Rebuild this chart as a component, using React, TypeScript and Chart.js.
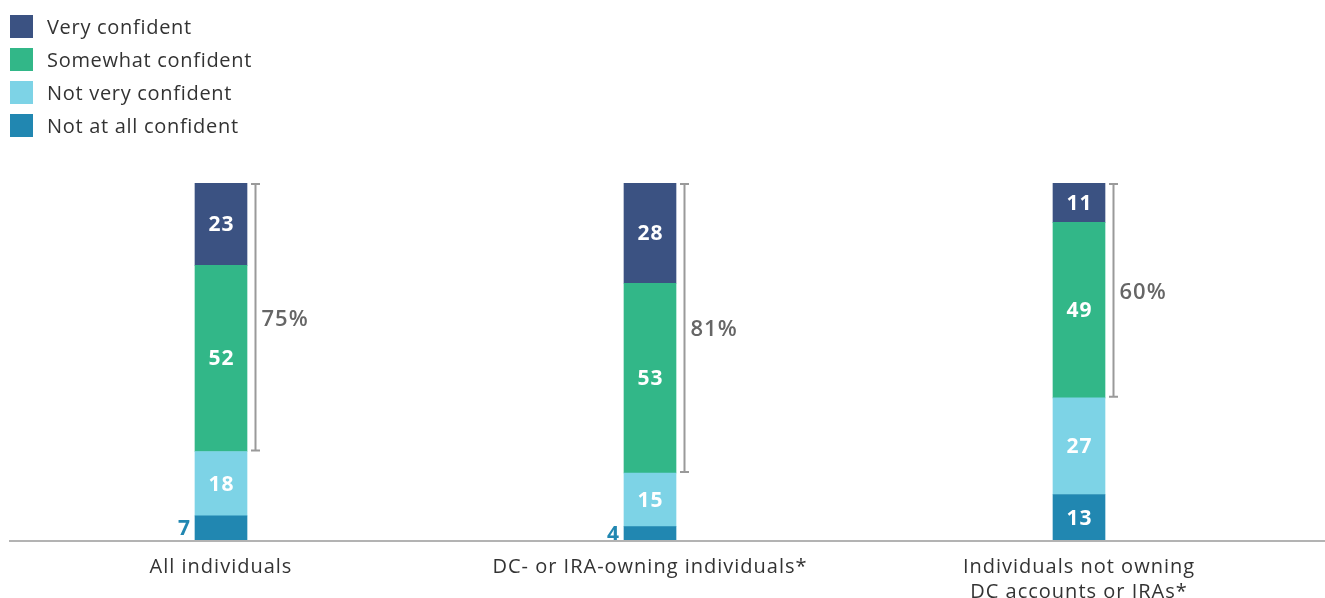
import React, { useEffect, useRef } from "react";
import { Chart, registerables } from "chart.js";

Chart.register(...registerables);

const categories: string[][] = [
  ["All individuals"],
  ["DC- or IRA-owning individuals*"],
  ["Individuals not owning", "DC accounts or IRAs*"],
];
const seriesNames = ["Not at all confident", "Not very confident", "Somewhat confident", "Very confident"];
const notAtAll = [7, 4, 13];
const notVery = [18, 15, 27];
const somewhat = [52, 53, 49];
const very = [23, 28, 11];
const seriesColors = ["#2187b1", "#7dd3e6", "#32b788", "#3b5282"];

const FONT = "'Open Sans', sans-serif";

const overlay = {
  id: "overlay",
  afterDatasetsDraw(chart: any) {
    const ctx = chart.ctx as any;
    const xs = chart.scales.x;
    const ys = chart.scales.y;
    ctx.save();
    // value labels
    chart.data.datasets.forEach((ds: any, di: number) => {
      const meta = chart.getDatasetMeta(di);
      meta.data.forEach((bar: any, i: number) => {
        const v = ds.data[i];
        const mid = (bar.y + bar.base) / 2;
        ctx.font = `700 21px ${FONT}`;
        ctx.letterSpacing = "1px";
        ctx.textBaseline = "middle";
        if (v >= 10) {
          ctx.fillStyle = "#ffffff";
          ctx.textAlign = "center";
          ctx.fillText(String(v), bar.x + 0.5, mid + 1);
        } else {
          ctx.fillStyle = ds.backgroundColor;
          ctx.textAlign = "right";
          ctx.fillText(String(v), bar.x - bar.width / 2 - 4, mid + 1);
        }
      });
    });
    // brackets
    const meta0 = chart.getDatasetMeta(0);
    categories.forEach((_, i) => {
      const bar = meta0.data[i] as any;
      const lowSum = notAtAll[i] + notVery[i];
      const total = lowSum + somewhat[i] + very[i];
      const top = ys.getPixelForValue(total);
      const bottom = ys.getPixelForValue(lowSum);
      const bx = bar.x + bar.width / 2 + 8.5;
      ctx.strokeStyle = "#9a9a9a";
      ctx.lineWidth = 2;
      ctx.beginPath();
      ctx.moveTo(bx, top + 1);
      ctx.lineTo(bx, bottom - 1);
      ctx.moveTo(bx - 4.5, top + 1);
      ctx.lineTo(bx + 4.5, top + 1);
      ctx.moveTo(bx - 4.5, bottom - 1);
      ctx.lineTo(bx + 4.5, bottom - 1);
      ctx.stroke();
      ctx.fillStyle = "#666666";
      ctx.font = `600 22px ${FONT}`;
      ctx.letterSpacing = "1px";
      ctx.textAlign = "left";
      ctx.textBaseline = "middle";
      ctx.fillText(`${somewhat[i] + very[i]}%`, bx + 6, (top + bottom) / 2 + 2);
    });
    // axis line
    ctx.strokeStyle = "#b3b3b3";
    ctx.lineWidth = 2;
    ctx.beginPath();
    ctx.moveTo(9, chart.chartArea.bottom);
    ctx.lineTo(chart.width, chart.chartArea.bottom);
    ctx.stroke();
    // category labels
    ctx.fillStyle = "#333333";
    ctx.font = `400 20px ${FONT}`;
    ctx.letterSpacing = "1px";
    ctx.textAlign = "center";
    ctx.textBaseline = "middle";
    categories.forEach((lines, i) => {
      const x = xs.getPixelForValue(i);
      lines.forEach((ln, li) => {
        ctx.fillText(ln, x, chart.chartArea.bottom + 26 + li * 25);
      });
    });
    // legend
    ctx.textAlign = "left";
    ctx.font = `400 20px ${FONT}`;
    ctx.letterSpacing = "0.7px";
    for (let k = 0; k < 4; k++) {
      const si = 3 - k;
      const cy = 27 + k * 33;
      ctx.fillStyle = seriesColors[si];
      ctx.fillRect(10, cy - 12, 23, 23);
      ctx.fillStyle = "#333333";
      ctx.fillText(seriesNames[si], 47, cy + 1);
    }
    ctx.restore();
  },
};

export default function App() {
  const ref = useRef<HTMLCanvasElement>(null);
  useEffect(() => {
    document.body.style.margin = "0";
    const chart = new Chart(ref.current!, {
      type: "bar",
      data: {
        labels: categories.map((c) => c.join(" ")),
        datasets: [
          { label: seriesNames[0], data: notAtAll, backgroundColor: seriesColors[0] },
          { label: seriesNames[1], data: notVery, backgroundColor: seriesColors[1] },
          { label: seriesNames[2], data: somewhat, backgroundColor: seriesColors[2] },
          { label: seriesNames[3], data: very, backgroundColor: seriesColors[3] },
        ],
      },
      options: {
        responsive: false,
        animation: false,
        layout: { padding: { top: 183, left: 6.5, right: 31.5, bottom: 57 } },
        datasets: { bar: { barThickness: 52, borderWidth: 0 } },
        plugins: { legend: { display: false }, tooltip: { enabled: false } },
        scales: {
          x: { stacked: true, display: false },
          y: { stacked: true, display: false, min: 0, max: 100 },
        },
      },
      plugins: [overlay],
    });
    return () => chart.destroy();
  }, []);
  return (
    <div style={{ width: 1325, height: 598 }}>
      <canvas ref={ref} width={1325} height={598} style={{ display: "block" }} />
    </div>
  );
}
